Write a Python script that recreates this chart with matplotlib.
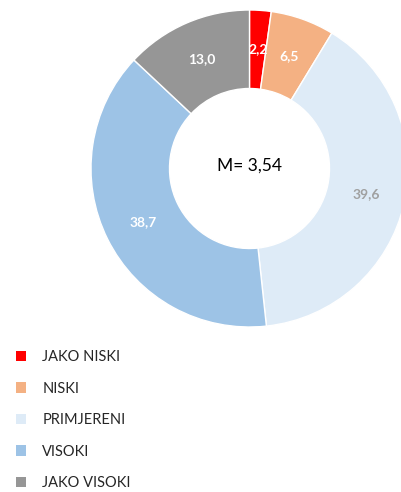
import matplotlib
matplotlib.use("Agg")
import matplotlib.pyplot as plt
from matplotlib.patches import Patch

categories = ["JAKO NISKI", "NISKI", "PRIMJERENI", "VISOKI", "JAKO VISOKI"]
values = [2.2, 6.5, 39.6, 38.7, 13.0]
colors = ["#FF0000", "#F4B183", "#DEEBF7", "#9DC3E6", "#969696"]
label_colors = ["white", "white", "#A0A0A0", "white", "white"]
center_text = "M= 3,54"

plt.rcParams['font.family'] = ['Lato', 'DejaVu Sans']

W, H = 401, 492
fig = plt.figure(figsize=(W / 100, H / 100), dpi=100)
R = 158.5
cx, cy = 249.5, 168.5
ax = fig.add_axes([(cx - R) / W, (H - cy - R) / H, 2 * R / W, 2 * R / H])
ax.set_xlim(-1, 1)
ax.set_ylim(-1, 1)
ax.set_aspect('equal')
ax.axis('off')

inner = 80 / R
wedges, texts, autotexts = ax.pie(
    values, colors=colors, startangle=90, counterclock=False, radius=1,
    wedgeprops=dict(width=1 - inner, edgecolor='white', linewidth=1),
    autopct=lambda p: f"{p:.1f}".replace('.', ','),
    pctdistance=(1 + inner) / 2,
    textprops=dict(fontsize=10, fontweight='bold'))
for t, c in zip(autotexts, label_colors):
    t.set_color(c)
ax.set_xlim(-1, 1)
ax.set_ylim(-1, 1)

ax.text(0, 0.02, center_text, ha='center', va='center', fontsize=12.5, color='black')

handles = [Patch(facecolor=c, edgecolor='none') for c in colors]
fig.legend(handles, categories, loc='upper left', bbox_to_anchor=(3 / W, 1 - 337 / H),
           frameon=False, fontsize=10.5, handlelength=0.7, handleheight=0.7,
           handletextpad=1.1, labelspacing=1.2, labelcolor='#262626')

fig.savefig("out.png", dpi=100)
